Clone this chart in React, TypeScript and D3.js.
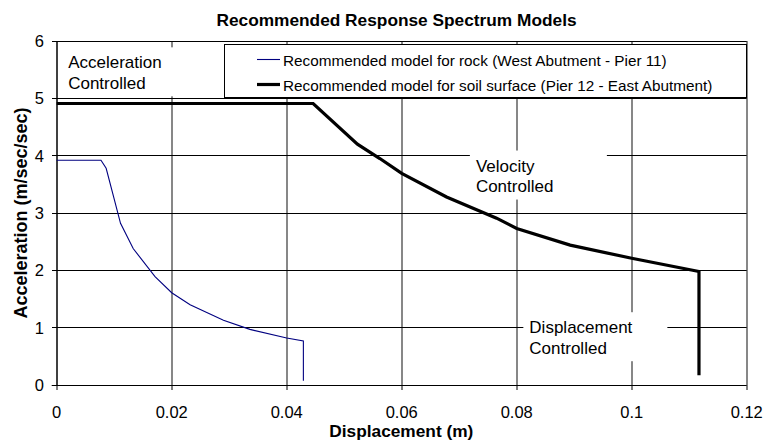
import React from "react";
import * as d3 from "d3";

const title = "Recommended Response Spectrum Models";
const xTitle = "Displacement (m)";
const yTitle = "Acceleration (m/sec/sec)";
const xTicks = [0, 0.02, 0.04, 0.06, 0.08, 0.1, 0.12];
const xTickLabels = ["0", "0.02", "0.04", "0.06", "0.08", "0.1", "0.12"];
const yTicks = [0, 1, 2, 3, 4, 5, 6];
const seriesNames = [
  "Recommended model for rock (West Abutment - Pier 11)",
  "Recommended model for soil surface (Pier 12 - East Abutment)",
];
const rockX = [0, 0.0077, 0.0086, 0.0099, 0.0111, 0.0133, 0.0171, 0.02, 0.0232, 0.029, 0.0336, 0.04, 0.0429, 0.0429];
const rockY = [3.92, 3.92, 3.78, 3.28, 2.82, 2.38, 1.89, 1.61, 1.4, 1.13, 0.97, 0.82, 0.77, 0.075];
const soilX = [0, 0.0446, 0.0523, 0.0562, 0.06, 0.0678, 0.0765, 0.08, 0.0893, 0.1, 0.1117, 0.1117];
const soilY = [4.91, 4.91, 4.2, 3.95, 3.69, 3.28, 2.91, 2.73, 2.44, 2.21, 1.98, 0.17];
const annotations = [
  { lines: ["Acceleration", "Controlled"], x: 0.002, y: 5.75 },
  { lines: ["Velocity", "Controlled"], x: 0.0729, y: 3.95 },
  { lines: ["Displacement", "Controlled"], x: 0.0822, y: 1.13 },
];

const W = 767;
const H = 448;
const FONT = "'Liberation Sans', Arial, Helvetica, sans-serif";

export default function App() {
  const x = d3.scaleLinear().domain([0, 0.12]).range([56.7, 746.7]);
  const y = d3.scaleLinear().domain([0, 6]).range([385, 41]);
  const line = d3
    .line<[number, number]>()
    .x((d) => x(d[0]))
    .y((d) => y(d[1]));
  const rock: [number, number][] = rockX.map((v, i) => [v, rockY[i]]);
  const soil: [number, number][] = soilX.map((v, i) => [v, soilY[i]]);
  const hy = (v: number) => Math.floor(y(v)) + 0.5;
  const vx = (v: number) => Math.round(x(v));
  const lineH = 20.3;
  const widths = [112, 137, 144];

  return (
    <svg
      width={W}
      height={H}
      style={{ position: "absolute", left: 0, top: 0, background: "#fff" }}
      fontFamily={FONT}
    >
      <rect x={0} y={0} width={W} height={H} fill="#fff" />
      {/* gridlines */}
      {xTicks.filter((t) => t > 0).map((t) => (
        <line key={"v" + t} x1={vx(t)} x2={vx(t)} y1={y(6)} y2={y(0)} stroke="#7a7a7a" strokeWidth={1.8} />
      ))}
      {yTicks.filter((t) => t > 0).map((t) => (
        <line key={"h" + t} x1={x(0)} x2={x(0.12)} y1={hy(t)} y2={hy(t)} stroke="#000" strokeWidth={1} />
      ))}
      {/* annotation boxes */}
      {annotations.map((a, i) => (
        <rect key={"ab" + i} x={x(a.x) - 6} y={y(a.y) - 8} width={widths[i]} height={49} fill="#fff" />
      ))}
      {annotations.map((a, i) => (
        <text key={"at" + i} fontSize={17} fill="#000">
          {a.lines.map((l, j) => (
            <tspan key={j} x={x(a.x)} y={y(a.y) + 13 + j * lineH}>
              {l}
            </tspan>
          ))}
        </text>
      ))}
      {/* axes */}
      <line x1={57} x2={57} y1={y(6)} y2={y(0) + 0.5} stroke="#000" strokeWidth={1.5} />
      <line x1={x(0) - 5} x2={x(0.12)} y1={hy(0)} y2={hy(0)} stroke="#000" strokeWidth={1} />
      {yTicks.map((t) => (
        <g key={"yt" + t}>
          <line x1={52} x2={57} y1={hy(t)} y2={hy(t)} stroke="#000" />
          <text x={44} y={y(t) + 6} textAnchor="end" fontSize={16.5} fill="#000">
            {t}
          </text>
        </g>
      ))}
      {xTicks.map((t, i) => (
        <g key={"xt" + t}>
          <line x1={vx(t)} x2={vx(t)} y1={y(0)} y2={y(0) + 5} stroke="#000" />
          <text x={x(t)} y={418} textAnchor="middle" fontSize={16.5} fill="#000">
            {xTickLabels[i]}
          </text>
        </g>
      ))}
      {/* series */}
      <path d={line(rock) || ""} fill="none" stroke="#000080" strokeWidth={1.1} />
      <path d={line(soil) || ""} fill="none" stroke="#000" strokeWidth={3.2} strokeLinejoin="miter" />
      {/* legend */}
      <rect x={224.5} y={44.5} width={522} height={53} fill="#fff" stroke="#000" strokeWidth={1} />
      <line x1={257} x2={280} y1={59.5} y2={59.5} stroke="#000080" strokeWidth={1.1} />
      <text x={283} y={66} fontSize={15.3} fill="#000">
        {seriesNames[0]}
      </text>
      <line x1={257} x2={280} y1={84.5} y2={84.5} stroke="#000" strokeWidth={3.2} />
      <text x={283} y={91} fontSize={15.3} fill="#000">
        {seriesNames[1]}
      </text>
      {/* titles */}
      <text x={396.5} y={25.5} textAnchor="middle" fontSize={17.3} fontWeight="bold" fill="#000">
        {title}
      </text>
      <text x={401.3} y={437} textAnchor="middle" fontSize={17.3} fontWeight="bold" fill="#000">
        {xTitle}
      </text>
      <text
        transform={`translate(26.5, ${(y(0) + y(6)) / 2}) rotate(-90)`}
        textAnchor="middle"
        fontSize={18}
        fontWeight="bold"
        fill="#000"
      >
        {yTitle}
      </text>
    </svg>
  );
}
